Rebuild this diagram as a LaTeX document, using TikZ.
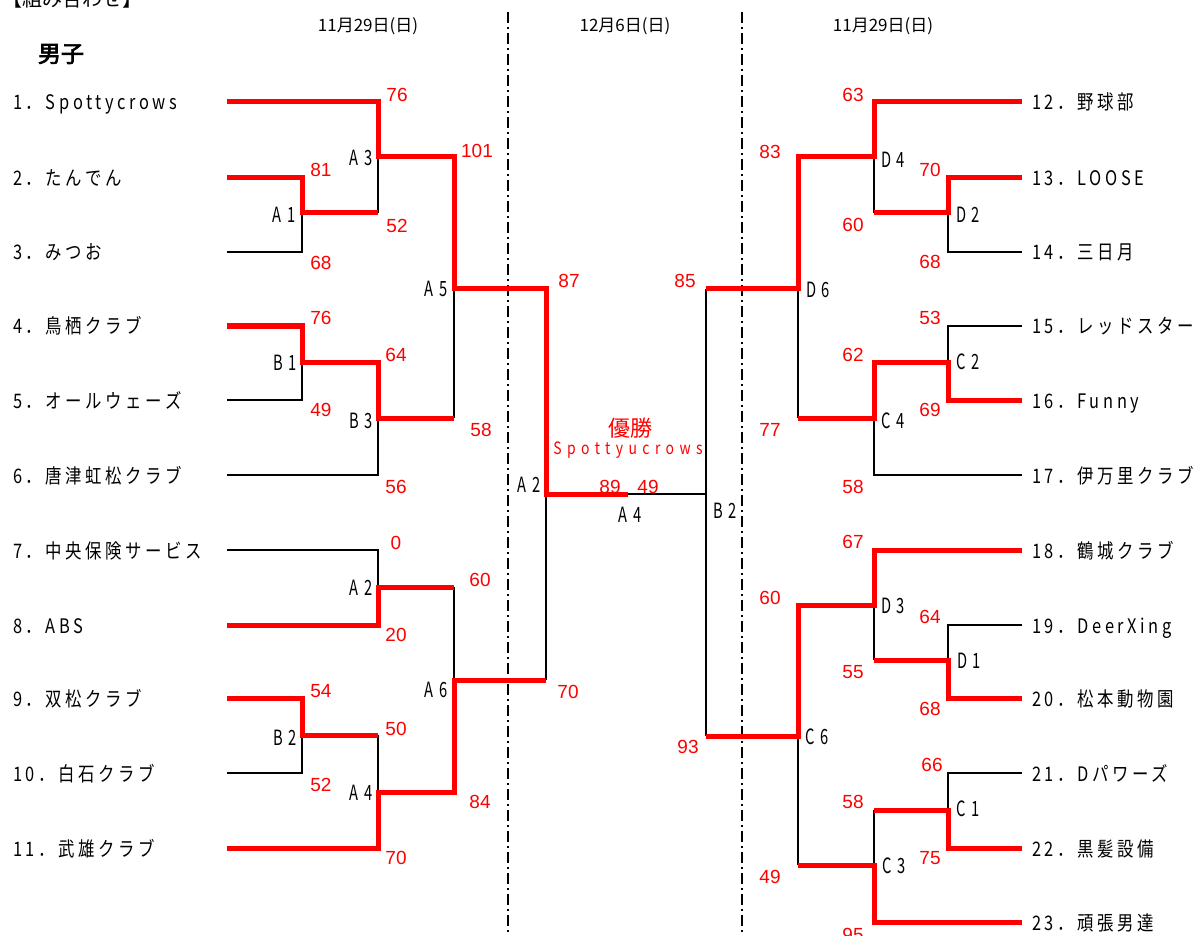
\documentclass[tikz,border=0pt]{standalone}
\usepackage{fontspec}
\usepackage{tikz}
\usetikzlibrary{positioning}
\setmainfont{Liberation Sans}
\newfontfamily\jp{Noto Sans CJK JP}
\newfontfamily\jpbold{Noto Sans CJK JP}[FakeBold=3]
\newfontfamily\nm{Noto Sans CJK JP}[FakeStretch=0.82,LetterSpace=18]
\newfontfamily\rd{Noto Sans CJK JP}[FakeStretch=0.7,LetterSpace=10]
\newfontfamily\wide{Noto Sans CJK JP}[FakeStretch=0.82,LetterSpace=32]

\begin{document}
\begin{tikzpicture}[x=1pt,y=-1pt,
  win/.style={red,line width=5pt},
  lose/.style={black,line width=1.8pt},
  sep/.style={black,line width=1.6pt,dash pattern=on 11pt off 4pt on 2pt off 4pt},
  team/.style={anchor=base west,yshift=-8pt,inner sep=0pt,font=\nm\fontsize{20}{24}\selectfont},
  rnd/.style={inner sep=0pt,font=\rd\fontsize{21}{23}\selectfont},
  score/.style={inner sep=0pt,text=red,font=\fontsize{19}{22}\selectfont},
  date/.style={inner sep=0pt,font=\jp\fontsize{17}{20}\selectfont}]
\useasboundingbox (0,0) rectangle (1203,936);
\clip (0,0) rectangle (1203,936);

% headings
\node[anchor=west,inner sep=0pt,font=\jp\fontsize{20}{24}\selectfont] (ttl) at (2,-1) {【組み合わせ】};
\node[inner sep=0pt,font=\jpbold\fontsize{23}{26}\selectfont] (sex) at (61,54) {男子};
\node[date] (d1) at (368,26) {11月29日(日)};
\node[date] (d2) at (625,26) {12月6日(日)};
\node[date] (d3) at (883,26) {11月29日(日)};

% day separators
\coordinate (s1t) at (508,12); \coordinate (s1b) at (508,936);
\coordinate (s2t) at (742,12); \coordinate (s2b) at (742,936);
\draw[sep] (s1t) -- (s1b);
\draw[sep] (s2t) -- (s2b);

% teams, left
\node[team] (n1) at (13,102) {1．Spottycrows};
\node[team] (n2) at (13,178) {2．たんでん};
\node[team] (n3) at (13,252) {3．みつお};
\node[team] (n4) at (13,326) {4．鳥栖クラブ};
\node[team] (n5) at (13,400) {5．オールウェーズ};
\node[team] (n6) at (13,475) {6．唐津虹松クラブ};
\node[team] (n7) at (13,550) {7．中央保険サービス};
\node[team] (n8) at (13,625) {8．ABS};
\node[team] (n9) at (13,698) {9．双松クラブ};
\node[team] (n10) at (13,773) {10．白石クラブ};
\node[team] (n11) at (13,848) {11．武雄クラブ};

% teams, right
\node[team] (n12) at (1032,102) {12．野球部};
\node[team] (n13) at (1032,178) {13．LOOSE};
\node[team] (n14) at (1032,252) {14．三日月};
\node[team] (n15) at (1032,326) {15．レッドスター};
\node[team] (n16) at (1032,400) {16．Funny};
\node[team] (n17) at (1032,475) {17．伊万里クラブ};
\node[team] (n18) at (1032,550) {18．鶴城クラブ};
\node[team] (n19) at (1032,625) {19．DeerXing};
\node[team] (n20) at (1032,698) {20．松本動物園};
\node[team] (n21) at (1032,773) {21．Dパワーズ};
\node[team] (n22) at (1032,848) {22．黒髪設備};
\node[team] (n23) at (1032,922) {23．頑張男達};

% line ends
\coordinate (e1) at (227,102); \coordinate (e2) at (227,178);
\coordinate (e3) at (227,252); \coordinate (e4) at (227,326);
\coordinate (e5) at (227,400); \coordinate (e6) at (227,475);
\coordinate (e7) at (227,550); \coordinate (e8) at (227,625);
\coordinate (e9) at (227,698); \coordinate (e10) at (227,773);
\coordinate (e11) at (227,848);
\coordinate (r12) at (1022,102); \coordinate (r13) at (1022,178);
\coordinate (r14) at (1022,252); \coordinate (r15) at (1022,326);
\coordinate (r16) at (1022,400); \coordinate (r17) at (1022,475);
\coordinate (r18) at (1022,550); \coordinate (r19) at (1022,625);
\coordinate (r20) at (1022,698); \coordinate (r21) at (1022,773);
\coordinate (r22) at (1022,848); \coordinate (r23) at (1022,922);

% games
\coordinate (A1) at (302,213); \coordinate (A3) at (378,157);
\coordinate (B1) at (302,362); \coordinate (B3) at (378,418);
\coordinate (A5) at (454,289); \coordinate (A2) at (378,587);
\coordinate (B2) at (302,735); \coordinate (A4) at (378,792);
\coordinate (A6) at (454,680); \coordinate (F) at (546,494);
\coordinate (champ) at (628,494); \coordinate (G) at (706,494);
\coordinate (D4) at (874,157); \coordinate (D2) at (948,213);
\coordinate (D6) at (798,289); \coordinate (C2) at (948,362);
\coordinate (C4) at (874,418); \coordinate (D3) at (874,605);
\coordinate (D1) at (948,660); \coordinate (C6) at (798,736);
\coordinate (C1) at (948,810); \coordinate (C3) at (874,865);

% losers
\draw[lose] (e3) -| (A1);
\draw[lose] (A1 -| A3) -- (A3);
\draw[lose] (e5) -| (B1);
\draw[lose] (e6) -| (B3);
\draw[lose] (B3 -| A5) -- (A5);
\draw[lose] (e7) -| (A2);
\draw[lose] (e10) -| (B2);
\draw[lose] (B2 -| A4) -- (A4);
\draw[lose] (A2 -| A6) -- (A6);
\draw[lose] (A6 -| F) -- (F);
\draw[lose] (champ) -- (G);
\draw[lose] (D6 -| G) -- (C6 -| G);
\draw[lose] (r14) -| (D2);
\draw[lose] (D2 -| D4) -- (D4);
\draw[lose] (r15) -| (C2);
\draw[lose] (r17) -| (C4);
\draw[lose] (C4 -| D6) -- (D6);
\draw[lose] (r19) -| (D1);
\draw[lose] (D1 -| D3) -- (D3);
\draw[lose] (r21) -| (C1);
\draw[lose] (C1 -| C3) -- (C3);
\draw[lose] (C3 -| C6) -- (C6);

% winners
\draw[win] (e1) -| (A3) -| (A5) -| (F) -- (champ);
\draw[win] (e2) -| (A1) -- (A1 -| A3);
\draw[win] (e4) -| (B1) -| (B3) -- (B3 -| A5);
\draw[win] (e8) -| (A2) -- (A2 -| A6);
\draw[win] (e9) -| (B2) -- (B2 -| A4);
\draw[win] (e11) -| (A4) -| (A6) -- (A6 -| F);
\draw[win] (r12) -| (D4) -| (D6) -- (D6 -| G);
\draw[win] (r13) -| (D2) -- (D2 -| D4);
\draw[win] (r16) -| (C2) -| (C4) -- (C4 -| D6);
\draw[win] (r18) -| (D3) -| (C6) -- (C6 -| G);
\draw[win] (r20) -| (D1) -- (D1 -| D3);
\draw[win] (r22) -| (C1) -- (C1 -| C3);
\draw[win] (r23) -| (C3) -- (C3 -| C6);

% game names
\node[rnd] (lA1) at (284,215) {A 1};
\node[rnd] (lA3) at (361,158) {A 3};
\node[rnd] (lB1) at (285,363) {B 1};
\node[rnd] (lB3) at (361,421) {B 3};
\node[rnd] (lA5) at (436,289) {A 5};
\node[rnd] (lA2) at (361,588) {A 2};
\node[rnd] (lB2) at (285,738) {B 2};
\node[rnd] (lA4) at (361,793) {A 4};
\node[rnd] (lA6) at (436,690) {A 6};
\node[rnd] (lF) at (529,485) {A 2};
\node[rnd] (lchamp) at (630,515) {A 4};
\node[rnd] (lG) at (725,511) {B 2};
\node[rnd] (lD4) at (893,160) {D 4};
\node[rnd] (lD2) at (968,215) {D 2};
\node[rnd] (lD6) at (818,290) {D 6};
\node[rnd] (lC2) at (968,362) {C 2};
\node[rnd] (lC4) at (893,421) {C 4};
\node[rnd] (lD3) at (893,606) {D 3};
\node[rnd] (lD1) at (969,661) {D 1};
\node[rnd] (lC6) at (817,737) {C 6};
\node[rnd] (lC1) at (968,809) {C 1};
\node[rnd] (lC3) at (894,866) {C 3};

% scores, left
\node[score] (p1) at (397,95) {76};
\node[score] (p2) at (321,170) {81};
\node[score] (p3) at (321,263) {68};
\node[score] (p4) at (397,226) {52};
\node[score] (p5) at (477,151) {101};
\node[score] (p6) at (481,430) {58};
\node[score] (p7) at (321,318) {76};
\node[score] (p8) at (321,410) {49};
\node[score] (p9) at (396,355) {64};
\node[score] (p10) at (396,487) {56};
\node[score] (p11) at (396,543) {0};
\node[score] (p12) at (396,635) {20};
\node[score] (p13) at (321,691) {54};
\node[score] (p14) at (321,785) {52};
\node[score] (p15) at (396,729) {50};
\node[score] (p16) at (396,858) {70};
\node[score] (p17) at (480,580) {60};
\node[score] (p18) at (480,802) {84};
\node[score] (p19) at (569,281) {87};
\node[score] (p20) at (568,692) {70};

% final
\node[score] (p21) at (610,487) {89};
\node[score] (p22) at (648,487) {49};
\node[inner sep=0pt,text=red,font=\jp\fontsize{22}{24}\selectfont] (yu) at (630,428) {優勝};
\node[inner sep=0pt,text=red,font=\wide\fontsize{17}{19}\selectfont] (winner) at (628,450) {Spottyucrows};

% scores, right
\node[score] (q1) at (685,281) {85};
\node[score] (q2) at (688,747) {93};
\node[score] (q3) at (770,152) {83};
\node[score] (q4) at (770,430) {77};
\node[score] (q5) at (853,95) {63};
\node[score] (q6) at (853,225) {60};
\node[score] (q7) at (930,170) {70};
\node[score] (q8) at (930,262) {68};
\node[score] (q9) at (930,318) {53};
\node[score] (q10) at (930,410) {69};
\node[score] (q11) at (853,355) {62};
\node[score] (q12) at (853,487) {58};
\node[score] (q13) at (853,542) {67};
\node[score] (q14) at (853,672) {55};
\node[score] (q15) at (930,617) {64};
\node[score] (q16) at (930,709) {68};
\node[score] (q17) at (770,598) {60};
\node[score] (q18) at (770,877) {49};
\node[score] (q19) at (932,765) {66};
\node[score] (q20) at (930,858) {75};
\node[score] (q21) at (853,802) {58};
\node[score] (q22) at (853,935) {95};
\end{tikzpicture}
\end{document}
